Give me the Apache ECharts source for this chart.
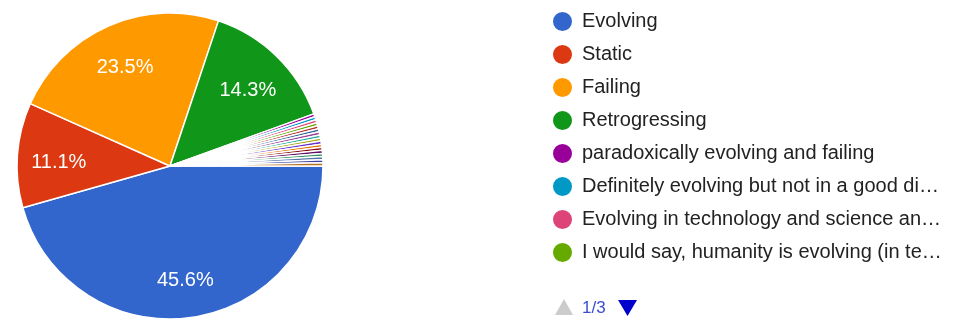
<!DOCTYPE html>
<html>
<head>
<meta charset="utf-8">
<script src="https://cdn.jsdelivr.net/npm/echarts@6/dist/echarts.min.js"></script>
<style>
  html, body { margin: 0; padding: 0; background: #fff; }
  #chart { width: 958px; height: 320px; }
</style>
</head>
<body>
<div id="chart"></div>
<script>
// Survey answers (response counts), in slice / legend order
const answers = [
  'Evolving',
  'Static',
  'Failing',
  'Retrogressing',
  'paradoxically evolving and failing',
  'Definitely evolving but not in a good direction',
  'Evolving in technology and science and declining in values',
  'I would say, humanity is evolving (in technology) but not morally',
  'Other answer 1', 'Other answer 2', 'Other answer 3', 'Other answer 4',
  'Other answer 5', 'Other answer 6', 'Other answer 7', 'Other answer 8',
  'Other answer 9', 'Other answer 10', 'Other answer 11', 'Other answer 12',
  'Other answer 13'
];
const responses = [140, 34, 72, 44, 1, 1, 1, 1, 1, 1, 1, 1, 1, 1, 1, 1, 1, 1, 1, 1, 1];
const palette = [
  '#3366cc', '#dc3912', '#ff9900', '#109618', '#990099', '#0099c6', '#dd4477',
  '#66aa00', '#b82e2e', '#316395', '#994499', '#22aa99', '#aaaa11', '#6633cc',
  '#e67300', '#8b0707', '#651067', '#329262', '#5574a6', '#3b3eac', '#b77322'
];
const legendPageSize = 8;
const legendPage = 1;

const FONT = '"Liberation Sans", Arial, sans-serif';
const total = responses.reduce((a, b) => a + b, 0);
const pct = v => (v / total * 100);

const sliceData = answers.map((name, i) => ({ name, value: responses[i] }));
const labelData = answers.map((name, i) => ({
  name,
  value: responses[i],
  label: { show: pct(responses[i]) >= 5 }
}));

const pageCount = Math.ceil(answers.length / legendPageSize);
const pageNames = answers.slice((legendPage - 1) * legendPageSize, legendPage * legendPageSize);

const chart = echarts.init(document.getElementById('chart'), null, { renderer: 'canvas' });
chart.setOption({
  animation: false,
  color: palette,
  textStyle: { fontFamily: FONT },
  legend: {
    type: 'plain',
    orient: 'vertical',
    left: 551,
    top: 10,
    padding: 0,
    data: pageNames,
    icon: 'circle',
    itemWidth: 21,
    itemHeight: 21,
    itemGap: 10,
    selectedMode: false,
    textStyle: {
      fontFamily: FONT,
      fontSize: 20,
      color: '#222222',
      lineHeight: 21,
      padding: [0, 0, 0, 4],
      width: 364,
      overflow: 'truncate',
      ellipsis: '…'
    }
  },
  graphic: [
    {
      type: 'polygon',
      shape: { points: [[555, 315], [573, 315], [564, 299]] },
      style: { fill: '#cccccc' },
      silent: true
    },
    {
      type: 'text',
      left: 582,
      top: 300,
      style: {
        text: legendPage + '/' + pageCount,
        fontFamily: FONT,
        fontSize: 17,
        fill: '#3a4fd0'
      },
      silent: true
    },
    {
      type: 'polygon',
      shape: { points: [[618, 300], [637, 300], [627.5, 316]] },
      style: { fill: '#0000cc' },
      silent: true
    }
  ],
  series: [
    {
      name: 'slices',
      type: 'pie',
      center: [170, 166],
      radius: [0, 153],
      startAngle: 0,
      clockwise: true,
      silent: true,
      data: sliceData,
      itemStyle: { borderColor: '#ffffff', borderWidth: 1.5 },
      label: { show: false },
      labelLine: { show: false },
      emphasis: { disabled: true }
    },
    {
      name: 'percent labels',
      type: 'pie',
      center: [170, 166],
      radius: [64, 153],
      startAngle: 0,
      clockwise: true,
      silent: true,
      z: 5,
      data: labelData,
      itemStyle: { color: 'rgba(0,0,0,0)', borderWidth: 0 },
      label: {
        position: 'inside',
        color: '#ffffff',
        fontFamily: FONT,
        fontSize: 20,
        offset: [0, 4],
        formatter: p => pct(p.value).toFixed(1) + '%'
      },
      labelLine: { show: false },
      emphasis: { disabled: true }
    }
  ]
});
</script>
</body>
</html>
